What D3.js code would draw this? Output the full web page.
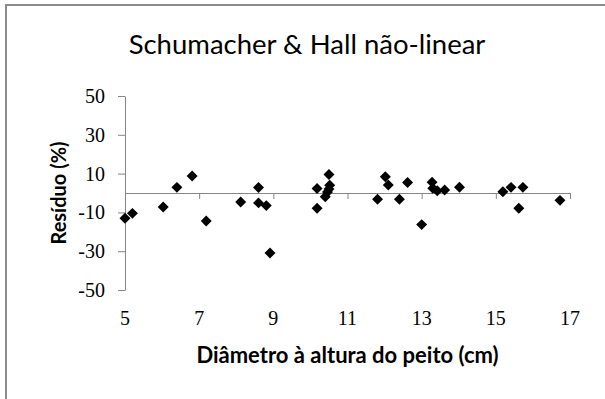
<!DOCTYPE html>
<html lang="pt">
<head>
<meta charset="UTF-8" />
<title>Schumacher & Hall não-linear</title>
<script src="https://cdn.jsdelivr.net/npm/d3@7"></script>
<style>
body{margin:0;background:#fff}
svg{display:block}
.tk{font-family:"Liberation Serif","DejaVu Serif",serif;font-size:20px;fill:#000}
.lbl{font-family:Lato,"Open Sans",sans-serif;fill:#000}
</style>
</head>
<body>
<svg id="chart" width="605" height="399"></svg>
<script>
/* ===== data ===== */
const dap=[5.0,5.2,6.03,6.4,6.81,7.19,8.12,8.6,8.6,8.81,8.91,
           10.18,10.18,10.4,10.46,10.5,10.52,10.5,11.81,12.02,12.1,12.4,12.62,
           13.0,13.28,13.3,13.42,13.62,14.02,15.19,15.41,15.62,15.73,16.73];
const residuo=[-13.0,-10.5,-7.2,2.9,8.8,-14.4,-4.6,2.8,-5.1,-6.5,-30.9,
               2.3,-7.9,-1.9,0.5,2.0,4.0,9.5,-3.2,8.4,4.1,-3.2,5.4,
               -16.3,5.6,2.5,1.2,1.5,3.0,0.6,2.9,-7.9,2.9,-3.8];
const xTicks=[5,7,9,11,13,15,17];
const yTicks=[-50,-30,-10,10,30,50];

const svg=d3.select('#chart'),M={l:125,r:35,t:96,b:109};
const W=+svg.attr('width'),H=+svg.attr('height'),w=W-M.l-M.r,h=H-M.t-M.b;
const axisCol='#868686';

/* frame (right/bottom run off the picture) */
svg.append('rect').attr('x',6).attr('y',5).attr('width',640).attr('height',440)
  .attr('fill','none').attr('stroke','#8c8c8c').attr('stroke-width',2);

const g=svg.append('g').attr('transform',`translate(${M.l},${M.t})`);
const x=d3.scaleLinear().domain([5,17]).range([0,w]);
const y=d3.scaleLinear().domain([-50,50]).range([h,0]);

/* y axis */
const ya=g.append('g').call(d3.axisLeft(y).tickValues(yTicks).tickSize(7).tickPadding(13)
  .tickSizeOuter(0).tickFormat(d=>String(d)));
ya.select('.domain').attr('stroke',axisCol);
ya.selectAll('.tick line').attr('stroke',axisCol);
ya.selectAll('.tick text').attr('class','tk').attr('fill',null).style('font-size','20px')
  .style('font-family','"Liberation Serif","DejaVu Serif",serif');

/* x axis crossing at 0, labels at the bottom */
const xa=g.append('g').attr('transform',`translate(0,${y(0)})`)
  .call(d3.axisBottom(x).tickValues(xTicks).tickSize(6).tickSizeOuter(0).tickFormat(''));
xa.select('.domain').attr('stroke',axisCol);
xa.selectAll('.tick line').attr('stroke',axisCol);
g.append('g').selectAll('text').data(xTicks).join('text')
  .attr('class','tk').attr('x',d=>x(d)).attr('y',h+35)
  .attr('text-anchor','middle').text(d=>d);

/* points */
g.append('g').selectAll('path').data(dap).join('path')
  .attr('transform',(d,i)=>`translate(${x(d)},${y(residuo[i])}) rotate(45)`)
  .attr('d',d3.symbol(d3.symbolSquare,60))
  .attr('fill','#000');

/* labels */
svg.append('text').attr('class','lbl').attr('x',307).attr('y',54)
  .attr('text-anchor','middle').style('font-size','27.5px').text('Schumacher & Hall não-linear');
svg.append('text').attr('class','lbl').attr('transform',`translate(66,${M.t+h/2}) rotate(-90)`)
  .attr('text-anchor','middle').style('font-size','20px').style('font-weight','bold').text('Resíduo (%)');
svg.append('text').attr('class','lbl').attr('x',M.l+w/2).attr('y',363)
  .attr('text-anchor','middle').style('font-size','22px').style('font-weight','bold').text('Diâmetro à altura do peito (cm)');
</script>
</body>
</html>
